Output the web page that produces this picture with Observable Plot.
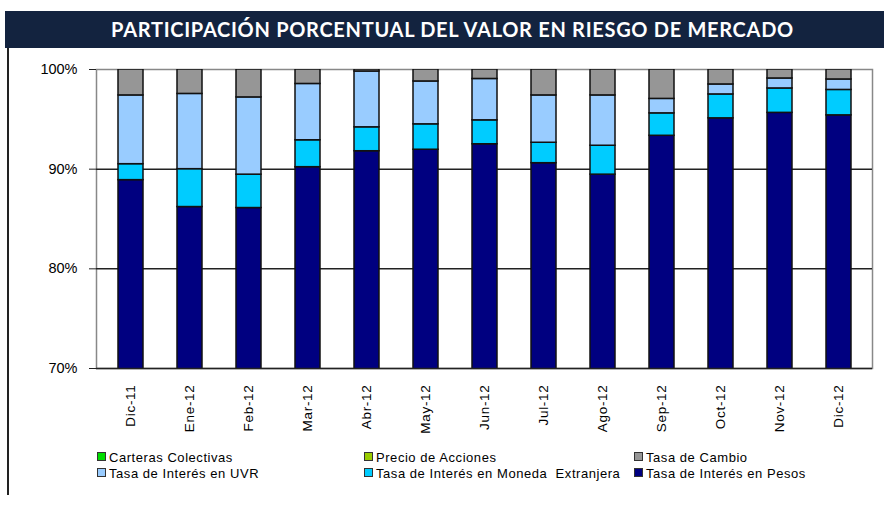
<!DOCTYPE html>
<html><head><meta charset="utf-8">
<script src="https://cdn.jsdelivr.net/npm/d3@7"></script>
<script src="https://cdn.jsdelivr.net/npm/@observablehq/plot@0.6"></script>
<style>
body{margin:0;background:#fff;width:884px;height:506px;overflow:hidden;position:relative;font-family:"Liberation Sans",Arial,sans-serif;}
#banner{position:absolute;left:5px;top:11px;width:879px;height:37px;background:#13233f;color:#fff;font-family:Lato,"Open Sans",sans-serif;font-weight:700;font-size:20px;letter-spacing:0.7px;line-height:37px;text-align:center;text-indent:16px;}
#vline{position:absolute;left:7px;top:48px;width:1.5px;height:447px;background:#222;}
#chart{position:absolute;left:0;top:0;}
#chart g[aria-label="x-axis tick label"] text{letter-spacing:0.7px;}
.lg{position:absolute;font-size:13px;letter-spacing:0.55px;color:#000;white-space:pre;line-height:14px;}
.lg i{display:inline-block;width:7px;height:7px;border:1px solid #333;margin-right:3px;vertical-align:1px;}
</style></head>
<body>
<div id="banner">PARTICIPACIÓN PORCENTUAL DEL VALOR EN RIESGO DE MERCADO</div>
<div id="vline"></div>
<div id="chart"></div>
<div id="legend"></div>
<script>
const months = ["Dic-11","Ene-12","Feb-12","Mar-12","Abr-12","May-12","Jun-12","Jul-12","Ago-12","Sep-12","Oct-12","Nov-12","Dic-12"];
const pesos  = [88.9, 86.2, 86.1, 90.2, 91.8, 91.95, 92.5, 90.6, 89.45, 93.35, 95.1, 95.65, 95.4];
const moneda = [1.6, 3.8, 3.35, 2.7, 2.4, 2.55, 2.4, 2.05, 2.9, 2.25, 2.4, 2.45, 2.55];
const uvr    = [6.9, 7.55, 7.75, 5.65, 5.6, 4.3, 4.15, 4.75, 5.05, 1.45, 1.0, 1.0, 1.05];
const cambio = [2.6, 2.45, 2.8, 1.45, 0.2, 1.2, 0.95, 2.6, 2.6, 2.95, 1.5, 0.9, 1.0];
const precio = [0,0,0,0,0,0,0,0,0,0,0,0,0];
const carteras = [0,0,0,0,0,0,0,0,0,0,0,0,0];
const yTicks = [70, 80, 90, 100];

const seriesNames = ["Tasa de Interés en Pesos","Tasa de Interés en Moneda  Extranjera","Tasa de Interés en UVR","Tasa de Cambio","Precio de Acciones","Carteras Colectivas"];
const seriesVals = [pesos, moneda, uvr, cambio, precio, carteras];
const colors = ["#000080","#00ccff","#99ccff","#969696","#99cc00","#00dd00"];

const data = [];
seriesNames.forEach((s, i) => months.forEach((m, j) => data.push({month: m, series: s, value: seriesVals[i][j]})));

const chart = Plot.plot({
  width: 884, height: 440,
  marginTop: 69, marginBottom: 72, marginLeft: 96, marginRight: 12,
  style: {fontFamily: '"Liberation Sans", Arial, sans-serif', fontSize: "13px", background: "transparent", color: "#000"},
  x: {domain: months, paddingInner: 0.58, paddingOuter: 0.29, label: null},
  y: {domain: [70, 100], label: null},
  color: {domain: seriesNames, range: colors},
  marks: [
    Plot.frame({stroke: "#888", strokeWidth: 1.5}),
    Plot.ruleY([80, 90], {stroke: "#222", strokeWidth: 1.5}),
    Plot.barY(data, Plot.stackY({x: "month", y: "value", z: "series", fill: "series", stroke: "#111", strokeWidth: 1.5, order: seriesNames, clip: true})),
    Plot.ruleY([70], {stroke: "#222", strokeWidth: 1.5}),
    Plot.ruleX([0], {frameAnchor: "left", stroke: "#222", strokeWidth: 1.5}),
    Plot.axisY({ticks: yTicks, tickFormat: d => d + "%", tickSize: 7, tickPadding: 12, fontSize: 14.5, stroke: "#222"}),
    Plot.axisX({tickRotate: -90, tickSize: 0, tickPadding: 16, fontSize: 13.5})
  ]
});
document.getElementById("chart").appendChild(chart);

const legendItems = [
  ["Carteras Colectivas", 5, 97, 451], ["Precio de Acciones", 4, 364, 451], ["Tasa de Cambio", 3, 634, 451],
  ["Tasa de Interés en UVR", 2, 97, 467], ["Tasa de Interés en Moneda  Extranjera", 1, 364, 467], ["Tasa de Interés en Pesos", 0, 634, 467]
];
const lg = document.getElementById("legend");
legendItems.forEach(([t, ci, x, y]) => {
  const d = document.createElement("div");
  d.className = "lg";
  d.style.left = x + "px"; d.style.top = y + "px";
  d.innerHTML = `<i style="background:${colors[ci]}"></i>${t}`;
  lg.appendChild(d);
});
</script>
</body></html>
